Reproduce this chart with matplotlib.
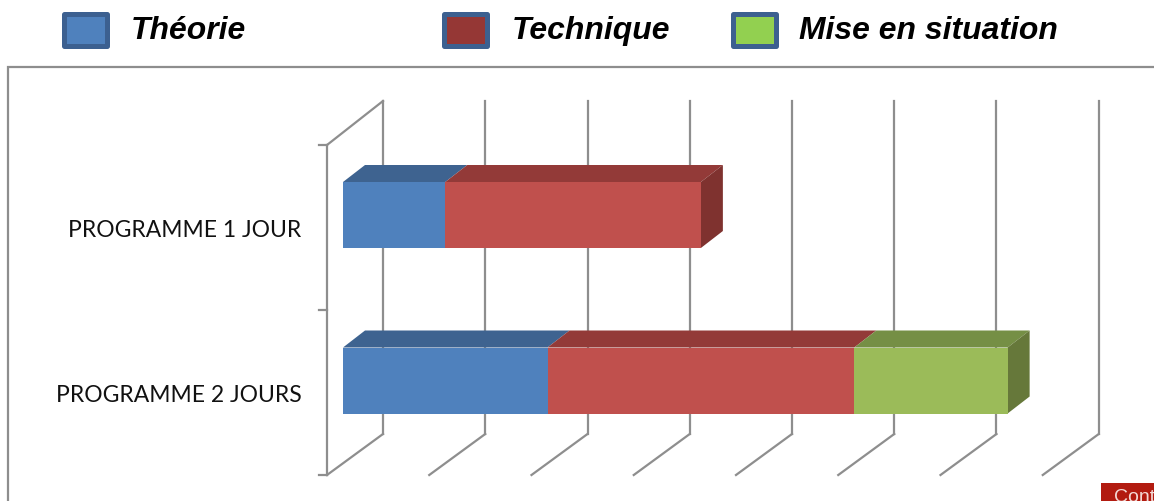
import matplotlib
matplotlib.use("Agg")
import matplotlib.pyplot as plt
from matplotlib.patches import Polygon, Rectangle

# data
categories = ["PROGRAMME 1 JOUR", "PROGRAMME 2 JOURS"]
series_names = ["Théorie", "Technique", "Mise en situation"]
theorie = [1.0, 2.0]
technique = [2.5, 3.0]
mise_en_situation = [0.0, 1.5]
grid_values = [0, 1, 2, 3, 4, 5, 6, 7]

face_colors = ["#4f81bd", "#c0504d", "#9bbb59"]
top_colors = ["#3e6390", "#933a38", "#758f45"]
side_colors = ["#35547a", "#7f322f", "#66783a"]
swatch_colors = ["#4f81bd", "#953735", "#92d050"]
swatch_x = [61, 441, 730]
label_x = [131, 512, 799]

W, H = 1154, 501
PX_UNIT_X = 102.25   # pixels per value unit
PX_UNIT_Y = 165.5    # pixels per category
X0, Y0 = 343, 215    # pixel of value 0 / first category centre
GRAY = "#8e8e8e"

fig = plt.figure(figsize=(W / 100, H / 100), dpi=100)

# pixel layer for the frame, legend and the clipped button
bg = fig.add_axes([0, 0, 1, 1])
bg.set_xlim(0, W)
bg.set_ylim(H, 0)
bg.axis("off")

bg.plot([8, 8, W], [H, 67, 67], color=GRAY, lw=1.6, solid_joinstyle="miter")

for name, sx, lx, col in zip(series_names, swatch_x, label_x, swatch_colors):
    bg.add_patch(Rectangle((sx + 2.5, 14), 43, 32, facecolor=col,
                           edgecolor="#3c6090", lw=3.6, joinstyle="round"))
    bg.text(lx, 31, name, fontsize=22.95, family="Liberation Sans", style="italic",
            weight="bold", va="center", ha="left", color="black")

bg.add_patch(Rectangle((1101, 483), 53, 18, facecolor="#b21b10", edgecolor="none"))
bg.text(1114, 489, "Cont", fontsize=14, family="Liberation Sans", color="#f4d8d4",
        va="top", ha="left", clip_on=True)

# chart layer, in value / category units
ax = fig.add_axes([0, 0, 1, 1])
ax.patch.set_alpha(0)
ax.set_xlim(-X0 / PX_UNIT_X, (W - X0) / PX_UNIT_X)
ax.set_ylim((H - Y0) / PX_UNIT_Y, -Y0 / PX_UNIT_Y)
ax.axis("off")

wall_x = -16 / PX_UNIT_X       # front of the floor / wall
back_dx = 56 / PX_UNIT_X
y_top = (145 - Y0) / PX_UNIT_Y
y_bottom = (475 - Y0) / PX_UNIT_Y
back_dy = 41 / PX_UNIT_Y
lw_grid = 1.6

# grid lines: back wall + floor
for v in grid_values:
    xf = v + wall_x
    xb = xf + back_dx
    ax.plot([xb, xb], [y_top - 44 / PX_UNIT_Y, y_bottom - back_dy], color=GRAY, lw=lw_grid, zorder=1)
    ax.plot([xb, xf], [y_bottom - back_dy, y_bottom], color=GRAY, lw=lw_grid, zorder=1)

# left wall, its ticks and the top edge
ax.plot([wall_x, wall_x], [y_top, y_bottom], color=GRAY, lw=lw_grid, zorder=1)
ax.plot([wall_x, wall_x + back_dx], [y_top, y_top - 44 / PX_UNIT_Y], color=GRAY, lw=lw_grid, zorder=1)
for y in [y_top, (y_top + y_bottom) / 2, y_bottom]:
    ax.plot([wall_x - 8 / PX_UNIT_X, wall_x], [y, y], color=GRAY, lw=lw_grid, zorder=1)

# 3d stacked bars
bar_h = 66 / PX_UNIT_Y
dx = 22 / PX_UNIT_X
dy = 17 / PX_UNIT_Y
for i, cat in enumerate(categories):
    left = 0.0
    vals = [theorie[i], technique[i], mise_en_situation[i]]
    last = max(j for j, v in enumerate(vals) if v > 0)
    t, b = i - bar_h / 2, i + bar_h / 2
    for j, v in enumerate(vals):
        if v <= 0:
            continue
        r = left + v
        ax.add_patch(Polygon([(left, t), (r, t), (r + dx, t - dy), (left + dx, t - dy)],
                             facecolor=top_colors[j], edgecolor="none", zorder=3))
        ax.barh(i, v, left=left, height=bar_h, color=face_colors[j], zorder=4)
        if j == last:
            ax.add_patch(Polygon([(r, t), (r + dx, t - dy), (r + dx, b - dy), (r, b)],
                                 facecolor=side_colors[j], edgecolor="none", zorder=3))
        left = r
    ax.text(wall_x - 25.5 / PX_UNIT_X, i + 22 / PX_UNIT_Y, cat, fontsize=16.5, family="Lato",
            ha="right", va="baseline", color="#111111")

ax.set_xlim(-X0 / PX_UNIT_X, (W - X0) / PX_UNIT_X)
ax.set_ylim((H - Y0) / PX_UNIT_Y, -Y0 / PX_UNIT_Y)

fig.savefig("out.png", dpi=100)
